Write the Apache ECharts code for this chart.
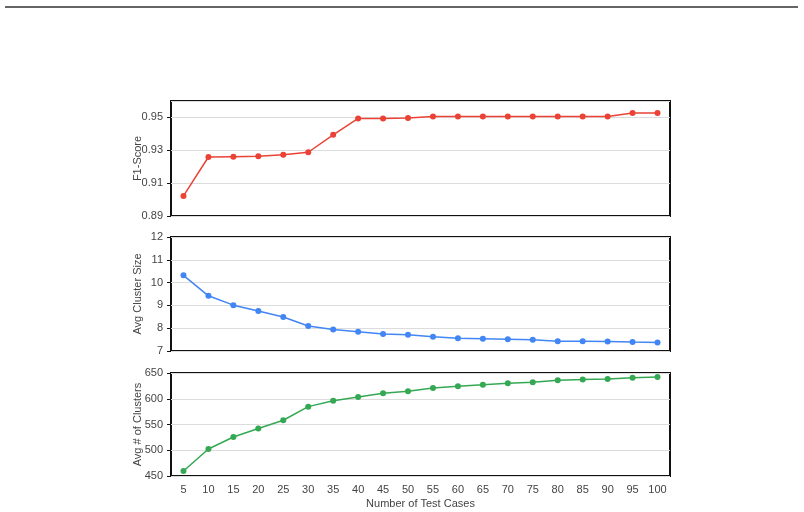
<!DOCTYPE html>
<html>
<head>
<meta charset="utf-8">
<style>
  html, body { margin: 0; padding: 0; background: #fff; }
  #chart { width: 804px; height: 512px; }
</style>
<script src="https://cdn.jsdelivr.net/npm/echarts@6/dist/echarts.min.js"></script>
</head>
<body>
<div id="chart"></div>
<script>
// x categories shared by all three panels
const testCases = ['5', '10', '15', '20', '25', '30', '35', '40', '45', '50',
  '55', '60', '65', '70', '75', '80', '85', '90', '95', '100'];

// values
const f1Score = [0.9022, 0.9259, 0.9261, 0.9263, 0.9273, 0.9288, 0.9394, 0.9494, 0.9494, 0.9496,
  0.9506, 0.9506, 0.9506, 0.9506, 0.9506, 0.9506, 0.9506, 0.9506, 0.9527, 0.9527];
const avgClusterSize = [10.32, 9.42, 9.01, 8.75, 8.49, 8.10, 7.94, 7.84, 7.75, 7.71,
  7.62, 7.56, 7.54, 7.52, 7.49, 7.43, 7.43, 7.42, 7.39, 7.37];
const avgClusters = [459.6, 502.5, 525.7, 542.3, 558.3, 584.7, 596.2, 603.2, 610.9, 614.7,
  621.1, 624.3, 627.0, 630.1, 632.1, 636.0, 637.2, 638.5, 641.0, 642.3];

const font = 'Arial, "Liberation Sans", sans-serif';
const textColor = '#444';

const chart = echarts.init(document.getElementById('chart'));

function grid(top, height) {
  return {
    left: 171, width: 499, top: top, height: height,
    show: true, borderColor: '#111', borderWidth: 2, backgroundColor: 'transparent'
  };
}

function xAxis(idx, showLabels) {
  return {
    type: 'category', gridIndex: idx, data: testCases, boundaryGap: true,
    axisLine: { show: false }, axisTick: { show: false },
    axisLabel: { show: showLabels, color: textColor, fontSize: 11, fontFamily: font, margin: 8, interval: 0 },
    name: showLabels ? 'Number of Test Cases' : '',
    nameLocation: 'middle', nameGap: 22,
    nameTextStyle: { color: textColor, fontSize: 11, fontFamily: font }
  };
}

function yAxis(idx, name, min, max, interval, digits, showMax) {
  return {
    type: 'value', gridIndex: idx, min: min, max: max, interval: interval,
    name: name, nameLocation: 'middle', nameGap: 28, nameMoveOverlap: false,
    nameTextStyle: { color: textColor, fontSize: 11, fontFamily: font },
    axisLine: { show: false },
    axisTick: { show: true, length: 4, lineStyle: { color: '#111' } },
    axisLabel: {
      color: textColor, fontSize: 11, fontFamily: font, margin: 8,
      showMaxLabel: showMax,
      formatter: v => v.toFixed(digits)
    },
    splitLine: { lineStyle: { color: '#dcdcdc', width: 1 } }
  };
}

function series(idx, data, color) {
  return {
    type: 'line', xAxisIndex: idx, yAxisIndex: idx, data: data,
    symbol: 'circle', symbolSize: 6,
    lineStyle: { color: color, width: 1.5 },
    itemStyle: { color: color },
    animation: false
  };
}

const option = {
  backgroundColor: '#fff',
  animation: false,
  graphic: [{
    type: 'line',
    shape: { x1: 5, y1: 7, x2: 798, y2: 7 },
    style: { stroke: '#333', lineWidth: 1.5 }
  }],
  grid: [grid(101, 115), grid(237, 114), grid(373, 103)],
  xAxis: [xAxis(0, false), xAxis(1, false), xAxis(2, true)],
  yAxis: [
    yAxis(0, 'F1-Score', 0.89, 0.96, 0.02, 2, false),
    yAxis(1, 'Avg Cluster Size', 7, 12, 1, 0, true),
    yAxis(2, 'Avg # of Clusters', 450, 650, 50, 0, true)
  ],
  series: [
    series(0, f1Score, '#ea4335'),
    series(1, avgClusterSize, '#4285f4'),
    series(2, avgClusters, '#34a853')
  ]
};

chart.setOption(option);
</script>
</body>
</html>
